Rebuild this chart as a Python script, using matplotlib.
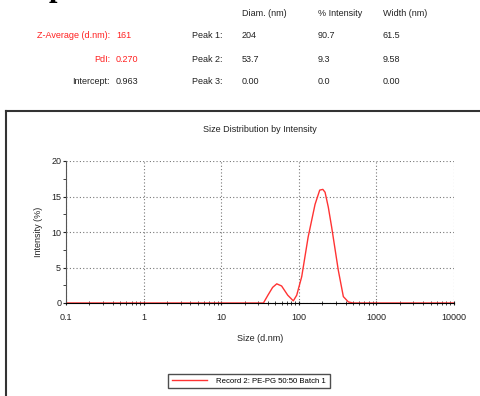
import numpy as np
import matplotlib.pyplot as plt
from matplotlib.lines import Line2D

# size distribution
size_nm = [0.1, 35, 40, 46, 52, 60, 72, 85, 94, 109, 132, 162, 186, 204, 218, 240, 265, 323, 375, 435, 500, 10000]
intensity = [0, 0, 1.1, 2.2, 2.7, 2.4, 1.1, 0.3, 1.1, 3.7, 9.3, 13.9, 15.9, 16.0, 15.6, 13.5, 10.7, 4.6, 0.9, 0.15, 0, 0]

x_ticks = [0.1, 1, 10, 100, 1000, 10000]
x_tick_labels = ["0.1", "1", "10", "100", "1000", "10000"]
y_ticks = [0, 5, 10, 15, 20]

left_labels = ["Z-Average (d.nm):", "PdI:", "Intercept:"]
left_values = ["161", "0.270", "0.963"]
left_colors = ["#ff2020", "#ff2020", "#222222"]
peak_labels = ["Peak 1:", "Peak 2:", "Peak 3:"]
diam = ["204", "53.7", "0.00"]
pct_int = ["90.7", "9.3", "0.0"]
width = ["61.5", "9.58", "0.00"]
headers = ["Diam. (nm)", "% Intensity", "Width (nm)"]

plt.rcParams['font.family'] = ['Liberation Sans', 'DejaVu Sans']

W, H = 481, 396
fig = plt.figure(figsize=(W / 100, H / 100), dpi=100)


def fx(px):
    return px / W


def fy(py):
    return 1 - py / H


fs = 6.5
# header table
col_x = [242, 318, 383]
for cx, h in zip(col_x, headers):
    fig.text(fx(cx), fy(13), h, fontsize=fs, va='center', ha='left', color='#222222')
rows_y = [35, 59, 82]
for i, ry in enumerate(rows_y):
    fig.text(fx(110), fy(ry), left_labels[i], fontsize=fs, va='center', ha='right', color=left_colors[i])
    fig.text(fx(116), fy(ry), left_values[i], fontsize=fs, va='center', ha='left', color=left_colors[i])
    fig.text(fx(192), fy(ry), peak_labels[i], fontsize=fs, va='center', ha='left', color='#222222')
    fig.text(fx(col_x[0]), fy(ry), diam[i], fontsize=fs, va='center', ha='left', color='#222222')
    fig.text(fx(col_x[1]), fy(ry), pct_int[i], fontsize=fs, va='center', ha='left', color='#222222')
    fig.text(fx(col_x[2]), fy(ry), width[i], fontsize=fs, va='center', ha='left', color='#222222')

# cut-off letter at the very top
fig.text(fx(57), fy(3), "p", fontsize=22, family='Liberation Serif', weight='bold',
         ha='center', va='bottom', color='black')

# panel frame
fig.add_artist(Line2D([fx(6), 1], [fy(111), fy(111)], color='#333333', lw=1.5))
fig.add_artist(Line2D([fx(6), fx(6)], [fy(111), 0], color='#333333', lw=1.5))

ax = fig.add_axes([fx(66), fy(303), fx(454) - fx(66), fy(161) - fy(303)])
ax.plot(size_nm, intensity, color='#ff3333', lw=1, label="Record 2: PE-PG 50:50 Batch 1")
ax.set_xscale('log')
ax.set_xlim(0.1, 10000)
ax.set_ylim(0, 20)
ax.set_xticks(x_ticks)
ax.set_xticklabels(x_tick_labels)
ax.set_yticks(y_ticks)
ax.set_yticks(np.arange(0, 20, 2.5), minor=True)
ax.grid(True, which='major', linestyle=(0, (1, 2)), color='#777777', lw=0.8)
for s in ['top', 'right']:
    ax.spines[s].set_visible(False)
ax.spines['left'].set_color('#555555')
ax.spines['bottom'].set_color('black')
ax.tick_params(axis='both', which='both', labelsize=fs, colors='#222222', length=3)
ax.tick_params(axis='x', which='both', direction='inout', length=3)
ax.tick_params(axis='x', pad=6)
ax.tick_params(axis='y', which='major', length=2, pad=1.5)
ax.tick_params(axis='y', which='minor', length=2)
ax.set_title("Size Distribution by Intensity", fontsize=fs, pad=21, color='#222222')
ax.set_xlabel("Size (d.nm)", fontsize=fs, labelpad=8, color='#222222')
ax.set_ylabel("Intensity (%)", fontsize=fs, labelpad=6, color='#222222')

leg = fig.legend(loc='center', bbox_to_anchor=(fx(249), fy(381)), fontsize=5.6,
                 frameon=True, fancybox=False, handlelength=4.5, handletextpad=1.2,
                 borderpad=0.45)
leg.get_frame().set_edgecolor('#222222')
leg.get_frame().set_linewidth(1.0)

fig.savefig("out.png", dpi=100)
